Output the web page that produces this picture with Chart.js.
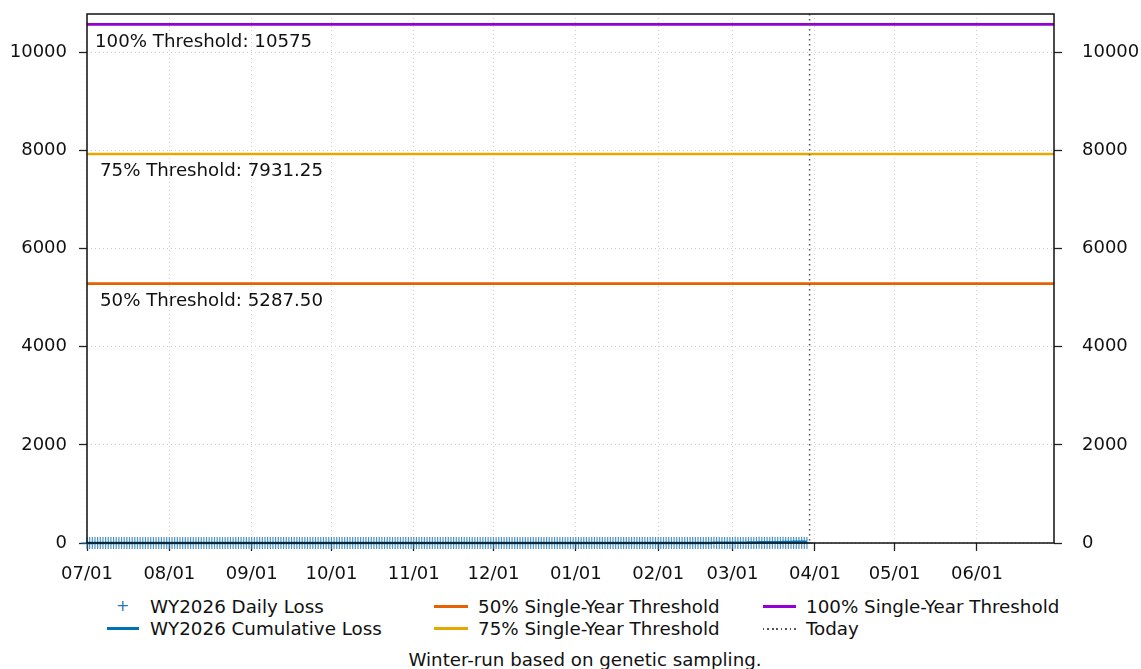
<!DOCTYPE html>
<html>
<head>
<meta charset="utf-8">
<script src="https://cdn.jsdelivr.net/npm/chart.js@4.4.1/dist/chart.umd.min.js"></script>
<style>
  html, body { margin: 0; padding: 0; background: #fff; }
  body { width: 1141px; height: 669px; position: relative; overflow: hidden; font-family: "DejaVu Sans", sans-serif; color: #111; }
  #wrap { position: absolute; left: 0; top: 0; width: 1141px; height: 590px; }
  .lg { position: absolute; font-size: 18.3px; line-height: 22px; white-space: nowrap; }
  .sw { position: absolute; height: 3px; }
  #cap { position: absolute; left: 0; width: 1170px; text-align: center; top: 649px; font-size: 18.2px; line-height: 22px; }
</style>
</head>
<body>
<div id="wrap"><canvas id="c" width="1141" height="590"></canvas></div>

<div class="lg" style="left:116px;top:595px;color:#1f77b4;font-size:16px;">+</div>
<div class="lg" style="left:150px;top:596px;">WY2026 Daily Loss</div>
<div class="sw" style="left:107px;top:627px;width:32px;background:#0072B2;"></div>
<div class="lg" style="left:150px;top:618px;">WY2026 Cumulative Loss</div>

<div class="sw" style="left:434px;top:605px;width:34px;background:#E66100;"></div>
<div class="lg" style="left:478px;top:596px;">50% Single-Year Threshold</div>
<div class="sw" style="left:434px;top:627px;width:34px;background:#E6A800;"></div>
<div class="lg" style="left:478px;top:618px;">75% Single-Year Threshold</div>

<div class="sw" style="left:763px;top:605px;width:33px;background:#9400D3;"></div>
<div class="lg" style="left:806px;top:596px;">100% Single-Year Threshold</div>
<div class="sw" style="left:763px;top:628px;width:33px;height:2px;background:repeating-linear-gradient(90deg,#555 0 1.5px,transparent 1.5px 4.5px);"></div>
<div class="lg" style="left:806px;top:618px;">Today</div>

<div id="cap">Winter-run based on genetic sampling.</div>

<script>
// ---- data ----
// day index 0 = 07/01/2025 ; water year ends 06/30/2026 (day 364)
const monthLabels = ["07/01","08/01","09/01","10/01","11/01","12/01","01/01","02/01","03/01","04/01","05/01","06/01"];
const monthStartDays = [0, 31, 62, 92, 123, 153, 184, 215, 243, 274, 304, 335];
const lastDay = 364;
const todayDay = 272;            // 03/30
const lastObservedDay = 271;     // daily loss recorded through 03/29
// days with non-zero daily loss (all other observed days had zero loss)
const lossDays   = [236, 244, 249, 253, 258, 262, 266, 269];
const lossValues = [3, 4, 2, 5, 3, 4, 2, 3];
const thresholdNames  = ["50% Threshold", "75% Threshold", "100% Threshold"];
const thresholdValues = [5287.50, 7931.25, 10575];
const thresholdLabels = ["50% Threshold: 5287.50", "75% Threshold: 7931.25", "100% Threshold: 10575"];
const yTicks = [0, 2000, 4000, 6000, 8000, 10000];
const yMax = 10786;

// ---- build series ----
const daily = [];
const cumulative = [];
let run = 0;
for (let d = 0; d <= lastObservedDay; d++) {
  const i = lossDays.indexOf(d);
  const v = i >= 0 ? lossValues[i] : 0;
  run += v;
  daily.push({x: d, y: v});
  cumulative.push({x: d, y: run});
}
const thrColors = ["#E66100", "#E6A800", "#9400D3"];
const thrDatasets = thresholdValues.map((v, i) => ({
  label: thresholdNames[i],
  data: [{x: 0, y: v}, {x: lastDay, y: v}],
  borderColor: thrColors[i], borderWidth: 2.7, pointRadius: 0, fill: false, order: 5
}));

const FONT = {family: "DejaVu Sans", size: 18};
const gridCommon = {
  color: "#cfcfcf", lineWidth: 1,
  tickLength: 8, tickColor: "#222", tickWidth: 1.3, tickBorderDash: []
};
const borderCommon = {display: false, dash: [1, 3]};
const noPadY = s => { s.width = 87; s.paddingTop = 0; s.paddingBottom = 0; };

const overlay = {
  id: "overlay",
  afterDatasetsDraw(chart) {
    const {ctx, chartArea: a, scales} = chart;
    const x = scales.x, y = scales.y;
    ctx.save();
    // today line
    const tx = x.getPixelForValue(todayDay);
    ctx.strokeStyle = "#555"; ctx.lineWidth = 1.5; ctx.setLineDash([1.5, 3.5]);
    ctx.beginPath(); ctx.moveTo(tx, a.top); ctx.lineTo(tx, a.bottom); ctx.stroke();
    ctx.setLineDash([]);
    // threshold labels
    ctx.fillStyle = "#111"; ctx.font = "18.2px 'DejaVu Sans'"; ctx.textBaseline = "top";
    const offs = [[100, 8], [100, 8], [95, 9]];
    thresholdValues.forEach((v, i) => {
      ctx.fillText(thresholdLabels[i], offs[i][0], y.getPixelForValue(v) + offs[i][1]);
    });
    // frame
    ctx.strokeStyle = "#111"; ctx.lineWidth = 1.5;
    ctx.strokeRect(a.left, a.top, a.right - a.left, a.bottom - a.top);
    ctx.restore();
  }
};

new Chart(document.getElementById("c"), {
  type: "line",
  data: {
    datasets: [
      { label: "WY2026 Daily Loss", data: daily, showLine: false, pointStyle: "cross",
        pointRadius: 6, pointBorderWidth: 1.2, pointBorderColor: "rgba(31,119,180,0.8)",
        pointBackgroundColor: "rgba(31,119,180,0.8)", order: 2 },
      { label: "WY2026 Cumulative Loss", data: cumulative, borderColor: "#0072B2",
        borderWidth: 2.5, pointRadius: 0, fill: false, order: 1 },
      ...thrDatasets
    ]
  },
  options: {
    responsive: false, animation: false, clip: false,
    layout: {padding: {top: 14, left: 0, right: 0, bottom: 0}},
    plugins: {legend: {display: false}, tooltip: {enabled: false}},
    scales: {
      x: {
        type: "linear", min: 0, max: lastDay,
        afterBuildTicks: s => { s.ticks = monthStartDays.map(v => ({value: v})); },
        afterFit: s => { s.height = 47; s.paddingLeft = 0; s.paddingRight = 0; },
        ticks: { autoSkip: false, maxRotation: 0, color: "#111", font: FONT, padding: 13,
                 callback: (v) => { const i = monthStartDays.indexOf(v); return i >= 0 ? monthLabels[i] : ""; } },
        grid: gridCommon,
        border: borderCommon
      },
      y: {
        type: "linear", position: "left", min: 0, max: yMax,
        afterBuildTicks: s => { s.ticks = yTicks.map(v => ({value: v})); },
        afterFit: noPadY,
        ticks: { color: "#111", font: FONT, padding: 12, callback: v => String(v) },
        grid: gridCommon,
        border: borderCommon
      },
      y2: {
        type: "linear", position: "right", min: 0, max: yMax,
        afterBuildTicks: s => { s.ticks = yTicks.map(v => ({value: v})); },
        afterFit: noPadY,
        ticks: { color: "#111", font: FONT, padding: 20, callback: v => String(v) },
        grid: {drawOnChartArea: false, tickLength: 8, tickColor: "#222", tickWidth: 1.3},
        border: {display: false}
      }
    }
  },
  plugins: [overlay]
});
</script>
</body>
</html>
